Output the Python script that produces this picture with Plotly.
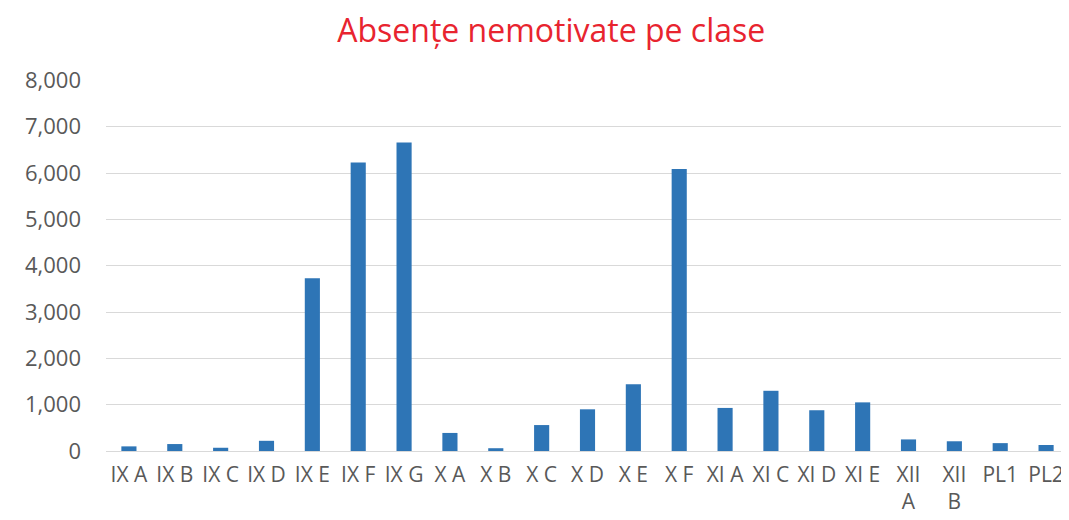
import plotly.graph_objects as go

CLASSES = ["IX A", "IX B", "IX C", "IX D", "IX E", "IX F", "IX G",
           "X A", "X B", "X C", "X D", "X E", "X F",
           "XI A", "XI C", "XI D", "XI E", "XII A", "XII B", "PL1", "PL2"]
TICK_LABELS = ["IX A", "IX B", "IX C", "IX D", "IX E", "IX F", "IX G",
               "X A", "X B", "X C", "X D", "X E", "X F",
               "XI A", "XI C", "XI D", "XI E", "XII<br>A", "XII<br>B", "PL1", "PL2"]
ABSENTE = [100, 150, 70, 220, 3730, 6230, 6660,
           390, 60, 560, 900, 1440, 6090,
           930, 1300, 880, 1050, 250, 210, 170, 130]

BAR_COLOR = "#2e75b6"
TEXT_COLOR = "#595959"
GRID_COLOR = "#d9d9d9"
FONT = "'Open Sans', Lato, sans-serif"

fig = go.Figure(
    go.Bar(x=CLASSES, y=ABSENTE, marker=dict(color=BAR_COLOR, line=dict(width=0)))
)

# the page body adds an 8px margin, so the figure is 8px smaller than the window
fig.update_layout(
    width=1061, height=512,
    margin=dict(l=98, r=0, t=72, b=69),
    plot_bgcolor="white", paper_bgcolor="white",
    bargap=0.67,
    showlegend=False,
    font=dict(family=FONT, color=TEXT_COLOR, size=22),
    title=dict(
        text="Absențe nemotivate pe clase",
        x=0.512, xanchor="center", y=0.955, yanchor="middle",
        font=dict(family=FONT, color="#e8242f", size=32),
    ),
)

fig.update_xaxes(
    tickvals=CLASSES, ticktext=TICK_LABELS, tickangle=0,
    showgrid=False, showline=False, ticks="", automargin=False,
    ticklabelstandoff=9,
    tickfont=dict(size=21, color=TEXT_COLOR),
)
fig.update_yaxes(
    range=[0, 8010], dtick=1000, tickformat=",",
    showgrid=True, gridcolor=GRID_COLOR, gridwidth=1,
    zeroline=True, zerolinecolor=GRID_COLOR, zerolinewidth=1,
    showline=False, ticks="", ticklabelstandoff=24, automargin=False,
    tickfont=dict(size=22, color=TEXT_COLOR),
)

fig.write_html("out.html")
